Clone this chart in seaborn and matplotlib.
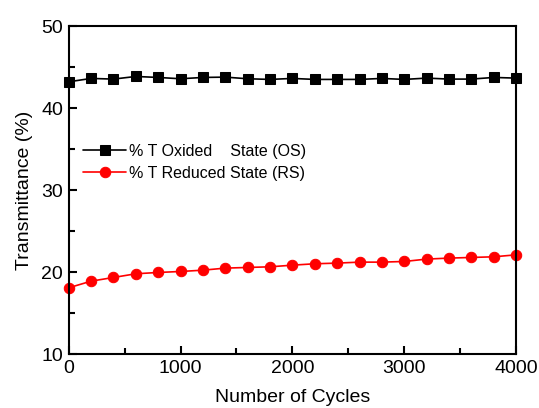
import numpy as np
import pandas as pd
import seaborn as sns
import matplotlib.pyplot as plt
from matplotlib.ticker import MultipleLocator

cycles = list(range(0, 4001, 200))
t_oxided = [43.21, 43.62, 43.54, 43.86, 43.74, 43.58, 43.74, 43.78, 43.58, 43.50,
            43.62, 43.50, 43.50, 43.50, 43.62, 43.50, 43.66, 43.54, 43.54, 43.74,
            43.66]
t_reduced = [18.09, 18.90, 19.35, 19.80, 19.96, 20.08, 20.24, 20.49, 20.57, 20.65,
             20.85, 21.02, 21.10, 21.22, 21.22, 21.30, 21.59, 21.71, 21.79, 21.87,
             22.11]

df = pd.DataFrame({'cycles': cycles, 'os': t_oxided, 'rs': t_reduced})

sns.set_style('ticks')
plt.rcParams['font.family'] = ['Liberation Sans', 'DejaVu Sans']
plt.rcParams['xtick.direction'] = 'in'
plt.rcParams['ytick.direction'] = 'in'
plt.rcParams['text.color'] = 'black'
plt.rcParams['axes.labelcolor'] = 'black'
plt.rcParams['xtick.color'] = 'black'
plt.rcParams['ytick.color'] = 'black'
plt.rcParams['axes.edgecolor'] = 'black'

fig = plt.figure(figsize=(5.39, 4.08), dpi=100)
ax = fig.add_axes([0.1275, 0.132, 0.83, 0.804])

sns.lineplot(x='cycles', y='os', data=df, ax=ax, color='black', marker='s',
             markersize=6.5, markeredgecolor='black', linewidth=1.2,
             label='% T Oxided    State (OS)', clip_on=False)
sns.lineplot(x='cycles', y='rs', data=df, ax=ax, color='red', marker='o',
             markersize=7.5, markeredgecolor='red', linewidth=1.2,
             label='% T Reduced State (RS)', clip_on=False)

ax.set_xlim(0, 4000)
ax.set_ylim(10, 50)
ax.xaxis.set_major_locator(MultipleLocator(1000))
ax.xaxis.set_minor_locator(MultipleLocator(500))
ax.yaxis.set_major_locator(MultipleLocator(10))
ax.yaxis.set_minor_locator(MultipleLocator(5))
ax.tick_params(which='major', length=6, width=1.5, labelsize=14, pad=4)
ax.tick_params(which='minor', length=4, width=1.5)

for s in ax.spines.values():
    s.set_linewidth(1.5)
    s.set_visible(True)

ax.set_xlabel('Number of Cycles', fontsize=14, labelpad=9)
ax.set_ylabel('Transmittance (%)', fontsize=14, labelpad=6)

ax.legend(loc='upper left', bbox_to_anchor=(0.0, 0.685), frameon=False,
          fontsize=11.5, handlelength=2.7, handletextpad=0.15, labelspacing=0.45)

fig.savefig('out.png', dpi=100)
